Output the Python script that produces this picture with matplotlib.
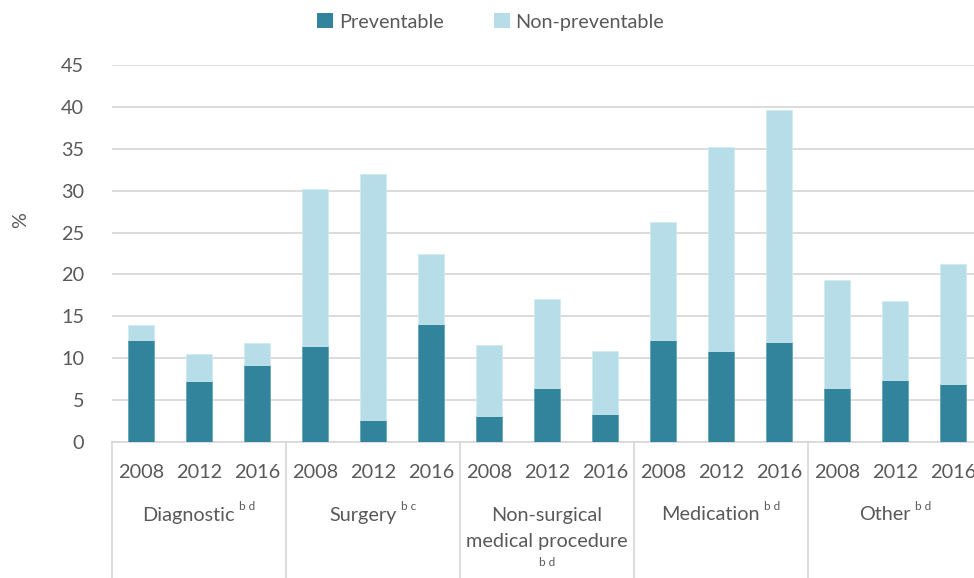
import numpy as np
import matplotlib.pyplot as plt
import matplotlib.transforms as mtransforms
from matplotlib.patches import Patch

plt.rcParams['font.family'] = ['Lato', 'DejaVu Sans']

categories = ['Diagnostic', 'Surgery', 'Non-surgical\nmedical procedure', 'Medication', 'Other']
notes = ['b d', 'b c', 'b d', 'b d', 'b d']
years = ['2008', '2012', '2016']
preventable = [12.2, 7.3, 9.2,
               11.4, 2.6, 14.1,
               3.1, 6.5, 3.3,
               12.2, 10.9, 11.9,
               6.4, 7.4, 6.9]
non_preventable = [1.8, 3.2, 2.65,
                   18.8, 29.35, 8.4,
                   8.45, 10.6, 7.55,
                   14.1, 24.3, 27.75,
                   12.95, 9.4, 14.4]

dark = '#31849b'
light = '#b7dde8'
text_col = '#595959'
grid_col = '#d9d9d9'
fs = 14.3

fig = plt.figure(figsize=(9.74, 5.78), dpi=100)
ax = fig.add_axes([112 / 974, 1 - 442 / 578, 870 / 974, (442 - 65) / 578])

x = np.arange(len(preventable))
ax.bar(x, preventable, width=0.44, color=dark, edgecolor='#5aa0b3', linewidth=0.5, zorder=3)
ax.bar(x, non_preventable, width=0.44, bottom=preventable, color=light,
       edgecolor='#d0eaf1', linewidth=0.5, zorder=3)

ax.set_xlim(-0.5, len(x) - 0.5)
ax.set_ylim(0, 45)
ax.set_yticks(np.arange(0, 46, 5))
ax.yaxis.grid(True, color=grid_col, linewidth=1.3)
ax.set_axisbelow(True)
ax.set_xticks([])
ax.tick_params(axis='y', length=0, labelsize=fs, labelcolor=text_col, pad=20)
for s in ['top', 'right', 'left']:
    ax.spines[s].set_visible(False)
ax.spines['bottom'].set_color(grid_col)
ax.spines['bottom'].set_linewidth(1.3)

# category table under the axis
trans = mtransforms.blended_transform_factory(ax.transData, fig.transFigure)
renderer = fig.canvas.get_renderer()
for i in x:
    ax.text(i, 1 - 472 / 578, years[i % 3], transform=trans, ha='center', va='center',
            fontsize=fs, color=text_col)
for g, name in enumerate(categories):
    cx = g * 3 + 1
    lines = name.split('\n')
    if len(lines) == 1:
        # main label plus a small superscript note, centred together
        t = ax.text(cx, 1 - 515 / 578, lines[0], transform=trans, ha='center', va='center',
                    fontsize=fs, color=text_col)
        sup = ax.text(0, 0, notes[g], fontsize=8.5, color=text_col, transform=trans)
        w_main = t.get_window_extent(renderer).width
        w_sup = sup.get_window_extent(renderer).width + 4
        shift = mtransforms.ScaledTranslation(-w_sup / 2 / 100, 0, fig.dpi_scale_trans)
        t.set_transform(trans + shift)
        sup.set_position((cx, 1 - 515 / 578))
        sup_shift = mtransforms.ScaledTranslation((w_main / 2 - w_sup / 2 + 4) / 100, 3 / 100,
                                                  fig.dpi_scale_trans)
        sup.set_transform(trans + sup_shift)
        sup.set_va('bottom')
    else:
        ax.text(cx, 1 - 515 / 578, lines[0], transform=trans, ha='center', va='center',
                fontsize=fs, color=text_col)
        ax.text(cx, 1 - 541 / 578, lines[1], transform=trans, ha='center', va='center',
                fontsize=fs, color=text_col)
        ax.text(cx, 1 - 563 / 578, notes[g], transform=trans, ha='center', va='center',
                fontsize=8.5, color=text_col)
for b in np.arange(-0.5, len(x), 3):
    ax.plot([b, b], [0, 1 - 442 / 578], transform=trans, color=grid_col,
            linewidth=1.3, clip_on=False)

fig.text(0.021, 1 - 220 / 578, '%', rotation=90, ha='center', va='center',
         fontsize=fs, color=text_col)

handles = [Patch(facecolor=dark, label='Preventable'), Patch(facecolor=light, label='Non-preventable')]
fig.legend(handles=handles, loc='center', bbox_to_anchor=(0.504, 1 - 22 / 578), ncol=2,
           frameon=False, fontsize=fs, labelcolor=text_col, handlelength=0.8,
           handleheight=0.8, handletextpad=0.3, columnspacing=2.5)

fig.savefig('out.png', dpi=100)
